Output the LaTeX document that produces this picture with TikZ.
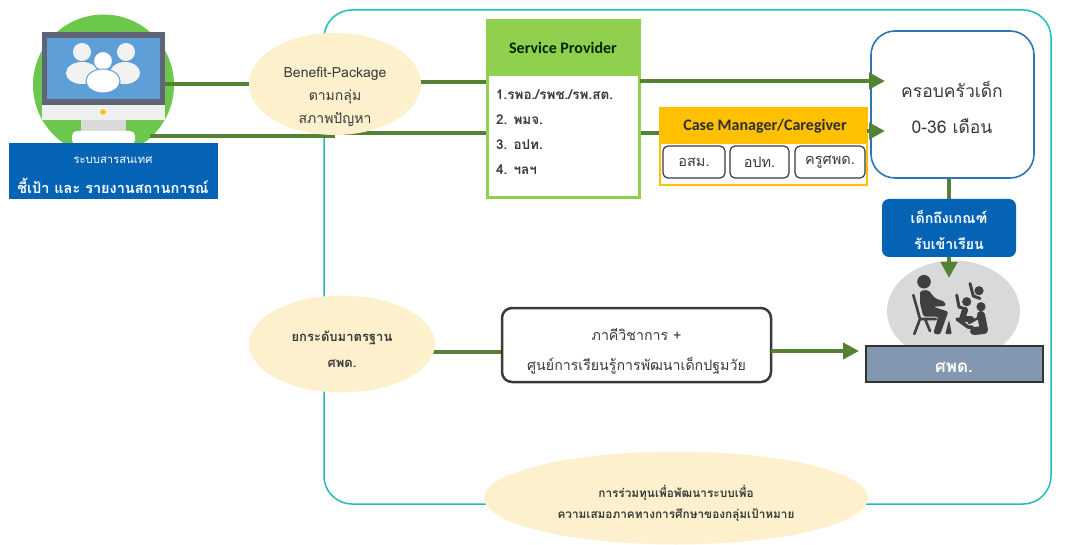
\documentclass[tikz,border=0pt]{standalone}
\usepackage{fontspec}
\setmainfont{Carlito}
\newfontfamily\thaifont[Script=Thai]{Loma}
\usetikzlibrary{shapes.geometric,arrows.meta,backgrounds}
\definecolor{flow}{HTML}{548235}
\definecolor{leaf}{HTML}{8FD14F}
\definecolor{disccol}{HTML}{6CC84C}
\definecolor{cream}{HTML}{FCF0CD}
\definecolor{teal}{HTML}{1FBDB6}
\definecolor{navy}{HTML}{0563B5}
\definecolor{sky}{HTML}{2E75B6}
\definecolor{screencol}{HTML}{5E9FD8}
\definecolor{framecol}{HTML}{5F6577}
\definecolor{amber}{HTML}{FFC000}
\definecolor{ink}{HTML}{3A3A3A}
\definecolor{slate}{HTML}{8497B0}
\definecolor{iconink}{HTML}{404040}
\tikzset{
  x=1pt,y=-1pt,
  th/.style 2 args={font=\thaifont\fontsize{#1}{#2}\selectfont,align=center,text=ink},
  thb/.style 2 args={font=\thaifont\bfseries\fontsize{#1}{#2}\selectfont,align=center,text=ink},
  box/.style={anchor=north west,inner sep=0pt,outer sep=0pt},
  oval/.style={ellipse,fill=cream,inner sep=0pt,outer sep=0pt},
  flowline/.style={draw=flow,line width=4.5pt},
  flowarrow/.style={flowline,-{Triangle[length=16pt,width=16pt]}},
  chip/.style={box,draw=ink,line width=1.2pt,rounded corners=5pt,fill=white,th={14.5}{18}},
}
\begin{document}
\begin{tikzpicture}
\useasboundingbox (0,0) rectangle (1065,545);
\coordinate (ya) at (0,84);
\coordinate (yb) at (0,136);
\coordinate (yc) at (0,82);
\coordinate (yd) at (0,133);
\coordinate (ye) at (0,352);
\coordinate (startb) at (150,136);
\coordinate (tipa) at (885,81);
\coordinate (tipb) at (885,131);
\coordinate (tipc) at (949,278);
\coordinate (tipd) at (859,351);

% monitor
\node[box,minimum width=123pt,minimum height=73pt,fill=framecol] (frame) at (42,32) {};
\node[box,minimum width=113pt,minimum height=61pt,fill=screencol] (screen) at (47,38) {};
\node[box,minimum width=123pt,minimum height=15pt,fill=gray!12] (band) at (42,105) {};
\node[box,minimum width=45pt,minimum height=11pt,fill=gray!30] (stand) at (81,120) {};
\node[box,minimum width=63pt,minimum height=14pt,fill=white,rounded corners=5pt] (base) at (72,131) {};
\fill[gray!10] (82,52) circle (9) (126,52) circle (9) (82,73) ellipse (16 and 11) (125,73) ellipse (15 and 11);
\fill[white,draw=screencol,line width=1pt] (103,61) circle (9.5);
\fill[white,draw=screencol,line width=1pt] (103,81) ellipse (17 and 12);
\fill[amber] (103,112) circle (2.8);

% left blue box
\node[box,minimum width=209pt,minimum height=56pt,fill=navy] (info) at (9,143) {};
\node[th={11.3}{14},text=white] (infoa) at (113,160) {ระบบสารสนเทศ};
\node[thb={14.5}{20},text=white] (infob) at (113,186) {ชี้เป้า และ รายงานสถานการณ์};

% ovals
\node[oval,minimum width=172pt,minimum height=102pt] (bp) at (335,84) {};
\node[th={14}{23}] (bptext) at (335,97) {Benefit-Package\\ตามกลุ่ม\\สภาพปัญหา};
\node[oval,minimum width=186pt,minimum height=97pt] (up) at (342,344) {};
\node[thb={13}{26}] (uptext) at (342,349) {ยกระดับมาตรฐาน\\ศพด.};
\node[oval,minimum width=384pt,minimum height=93pt] (co) at (676,498) {};
\node[thb={11.8}{21}] (cotext) at (676,503) {การร่วมทุนเพื่อพัฒนาระบบเพื่อ\\ความเสมอภาคทางการศึกษาของกลุ่มเป้าหมาย};

% service provider
\node[box,minimum width=152pt,minimum height=177pt,fill=white,draw=leaf,line width=3pt] (sp) at (487.5,21) {};
\node[box,minimum width=154.5pt,minimum height=56.5pt,fill=leaf] (sphead) at (486,19.5) {};
\node[font=\bfseries\fontsize{16}{18}\selectfont,text=black!75!green!60!black] (sptitle) at (563,48) {Service Provider};
\node[anchor=north west,inner sep=0pt,thb={13.5}{24.7},align=left] (splist) at (496,90) {1.รพอ./รพช./รพ.สต.\\2. พมจ.\\3. อปท.\\4. ฯลฯ};

% case manager
\node[box,minimum width=207pt,minimum height=77pt,fill=white,draw=amber,line width=2.5pt] (cm) at (660,108) {};
\node[box,minimum width=207pt,minimum height=36pt,fill=amber] (cmhead) at (660,108) {};
\node[font=\bfseries\fontsize{16}{18}\selectfont,text=ink!80!black] (cmtitle) at (765,126) {Case Manager/Caregiver};
\node[chip,minimum width=62pt,minimum height=32pt] (cha) at (663,146) {อสม.};
\node[chip,minimum width=59pt,minimum height=32pt] (chb) at (730,146) {อปท.};
\node[chip,minimum width=70pt,minimum height=32pt] (chc) at (795,146) {ครูศพด.};

% family
\node[box,minimum width=163pt,minimum height=147pt,draw=sky,line width=1.6pt,rounded corners=24pt,fill=white] (fam) at (871,31) {};
\node[th={17.5}{36}] (famtext) at (952,107) {ครอบครัวเด็ก\\0-36 เดือน};

% teacher and children
\node[ellipse,fill=gray!30,minimum width=133pt,minimum height=101pt,inner sep=0pt] (class) at (953.5,311) {};
\begin{scope}[iconink]
  \fill (924,281.7) circle (6.8);
  \fill[rounded corners=2pt] (920,290.7) -- (928.3,290) -- (935,298.3) -- (945,301.7) -- (945.7,306) -- (933.3,306.7) -- (948.3,311.7) -- (940,335) -- (933.3,333.3) -- (938.3,316.7) -- (923.3,316.7) -- (920,303.3) -- cycle;
  \draw[line width=2.6pt,line cap=round] (913.3,295) -- (920,319) -- (936,319) (920,319) -- (914.3,334) (925,319) -- (930,331);
  \fill[rounded corners=1pt] (945.2,334) -- (949,320) -- (951.8,334) -- cycle;
  \fill (979,290.7) circle (4.6) (966.7,301.7) circle (4.6) (981,306.7) circle (4.6);
  \draw[line width=3pt,line cap=round,line join=round] (970,283.5) -- (973.3,296) -- (980,298.5);
  \draw[line width=3pt,line cap=round,line join=round] (956.7,295) -- (959,307) -- (966,309);
  \draw[line width=6pt,line cap=round,line join=round] (965,310) -- (962,319) -- (971,319);
  \draw[line width=3.5pt,line cap=round,line join=round] (957,319) -- (968,327) -- (972,327);
  \draw[line width=8pt,line cap=round,line join=round] (981,315) -- (984,330) -- (974,331);
  \draw[line width=2.6pt,line cap=round] (978,318) -- (969,323);
\end{scope}

% school bar
\node[box,minimum width=177pt,minimum height=36pt,fill=slate,draw=black!80,line width=1.3pt] (school) at (866,346) {};
\node[thb={17}{20},text=white] (schooltext) at (954,367) {ศพด.};

% admission box
\node[box,minimum width=134pt,minimum height=58pt,fill=navy,rounded corners=7pt] (admit) at (882,199) {};
\node[thb={14.2}{26.5},text=white] (admittext) at (949,230) {เด็กถึงเกณฑ์\\รับเข้าเรียน};

% academic box
\node[box,minimum width=269pt,minimum height=74pt,draw=ink,line width=2.5pt,rounded corners=10pt,fill=white] (acad) at (502,308) {};
\node[th={14.2}{30}] (acadtext) at (636.5,351) {ภาคีวิชาการ +\\ศูนย์การเรียนรู้การพัฒนาเด็กปฐมวัย};

% arrows over the boxes
\draw[flowarrow] (sp.east |- tipa) -- (tipa);
\draw[flowarrow] (cm.east |- tipb) -- (tipb);
\draw[flowarrow] (admit.south -| tipc) -- (tipc);
\draw[flowarrow] (acad.east |- tipd) -- (tipd);

\begin{scope}[on background layer]
  \draw[teal,line width=1.5pt,rounded corners=28pt] (324,10) rectangle (1051,504);
  \node[circle,fill=disccol,minimum size=141pt,inner sep=0pt,outer sep=0pt] (disc) at (103.5,85) {};
  \draw[flowline] (disc.center |- ya) -- (bp.center |- ya);
  \draw[flowline] (startb) -- (bp.center |- yb);
  \draw[flowline] (bp.center |- yc) -- (sp.center |- yc);
  \draw[flowline] (bp.center |- yd) -- (sp.center |- yd);
  \draw[flowline] (sp.center |- yd) -- (cm.center |- yd);
  \draw[flowline] (up.center |- ye) -- (acad.center |- ye);
  \draw[flowline] (fam.south -| admit.center) -- (admit.north);
\end{scope}
\end{tikzpicture}
\end{document}
